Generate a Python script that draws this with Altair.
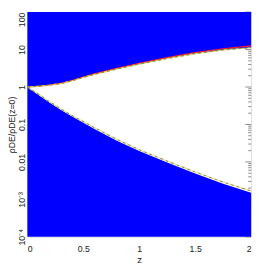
import altair as alt
import pandas as pd

# redshift grid
z_vals = [0, 0.1, 0.2, 0.3, 0.4, 0.5, 0.6, 0.8, 1.0, 1.25, 1.5, 1.75, 2.0]
# upper edge of the allowed (white) band
upper_edge = [1.0, 1.05, 1.13, 1.24, 1.46, 1.80, 2.17, 3.02, 4.07, 5.75, 7.76, 9.77, 11.2]
# red curve just above the upper edge
red_curve = [1.0, 1.05, 1.13, 1.25, 1.49, 1.85, 2.25, 3.17, 4.30, 6.10, 8.30, 10.5, 12.5]
# lower edge of the allowed band
lower_edge = [1.0, 0.61, 0.38, 0.245, 0.162, 0.112, 0.076, 0.037, 0.0195, 0.0096, 0.0049, 0.0026, 0.00150]
# yellow/olive curve just above the lower edge
lower_curve = [1.0, 0.64, 0.40, 0.26, 0.173, 0.120, 0.082, 0.040, 0.0212, 0.0105, 0.0054, 0.0029, 0.00167]

y_ticks = [1e-4, 1e-3, 1e-2, 1e-1, 1, 10, 100]
y_tick_labels = ["10⁻⁴", "10⁻³", "0.01", "0.1", "1", "10", "100"]
y_minor = [m * d for d in [1e-4, 1e-3, 1e-2, 1e-1, 1, 10] for m in range(2, 10)]
x_ticks = [0, 0.5, 1, 1.5, 2]

df = pd.DataFrame({"z": z_vals, "upper": upper_edge, "red": red_curve,
                   "lower": lower_edge, "lowc": lower_curve})

W, H = 231, 232
FONT = "Liberation Sans"

expr = ""
for v, lab in zip(y_ticks[:-1], y_tick_labels[:-1]):
    expr += f"datum.value < {v * 2} ? '{lab}' : "
expr += f"'{y_tick_labels[-1]}'"

yscale = alt.Scale(type="log", domain=[1e-4, 100], nice=False)
yaxis = alt.Axis(values=y_ticks, labelExpr=expr, labelAngle=270, ticks=False, domain=False,
                 grid=False, labelPadding=1, labelFont=FONT, labelFontSize=9, labelColor="#222",
                 labelAlign=alt.condition("datum.value > 50", alt.value("right"), alt.value("center")),
                 title="ρDE/ρDE(z=0)", titleFont=FONT, titleFontSize=9, titleFontWeight="normal",
                 titleColor="#222", titlePadding=1)
xscale = alt.Scale(domain=[0, 2], nice=False)
xaxis = alt.Axis(values=x_ticks, format="~g", ticks=False, domain=False, grid=False,
                 labelAngle=0, labelPadding=8, labelFont=FONT, labelFontSize=9, labelColor="#222",
                 title="z", titleFont=FONT, titleFontSize=10, titleFontWeight="normal",
                 titleColor="#222", titlePadding=2)

X = alt.X("z:Q", scale=xscale, axis=xaxis)

major = pd.DataFrame({"v": y_ticks})
minor = pd.DataFrame({"v": y_minor})

tick_major = alt.Chart(major).mark_rule(color="#888", strokeWidth=1).encode(
    y=alt.Y("v:Q", scale=yscale, axis=yaxis), x=alt.value(W - 6), x2=alt.value(W))
tick_minor = alt.Chart(minor).mark_rule(color="#888", strokeWidth=1).encode(
    y=alt.Y("v:Q", scale=yscale, axis=yaxis), x=alt.value(W - 3), x2=alt.value(W))

base = alt.Chart(df)
top_area = base.mark_area(color="#0000ff", opacity=1).encode(
    x=X, y=alt.Y("upper:Q", scale=yscale, axis=yaxis), y2=alt.datum(100))
bot_area = base.mark_area(color="#0000ff", opacity=1).encode(
    x=X, y=alt.Y("lower:Q", scale=yscale, axis=yaxis), y2=alt.datum(1e-4))

red = base.mark_line(color="#ff2020", strokeWidth=1.2).encode(
    x=X, y=alt.Y("red:Q", scale=yscale, axis=yaxis))
green_up = base.mark_line(color="#8aa040", strokeWidth=1.2, strokeDash=[3, 3]).encode(
    x=X, y=alt.Y("upper:Q", scale=yscale, axis=yaxis))
yellow_up = base.mark_line(color="#e8d860", strokeWidth=1.2, strokeDash=[3, 3], strokeDashOffset=3).encode(
    x=X, y=alt.Y("upper:Q", scale=yscale, axis=yaxis))
olive_lo = base.mark_line(color="#909060", strokeWidth=1.2, strokeDash=[3, 3]).encode(
    x=X, y=alt.Y("lowc:Q", scale=yscale, axis=yaxis))
yellow_lo = base.mark_line(color="#e8e070", strokeWidth=1.2, strokeDash=[3, 3], strokeDashOffset=3).encode(
    x=X, y=alt.Y("lowc:Q", scale=yscale, axis=yaxis))

chart = alt.layer(tick_major, tick_minor, top_area, bot_area, red, green_up, yellow_up,
                  olive_lo, yellow_lo).properties(
    width=W, height=H,
    autosize=alt.AutoSizeParams(type="none"),
    padding={"left": 20, "top": 0, "right": 4, "bottom": 30},
).configure_view(stroke="#9090b0", strokeWidth=1).configure(background="white")

chart.save("out.html", embed_options={"renderer": "svg", "actions": False})
